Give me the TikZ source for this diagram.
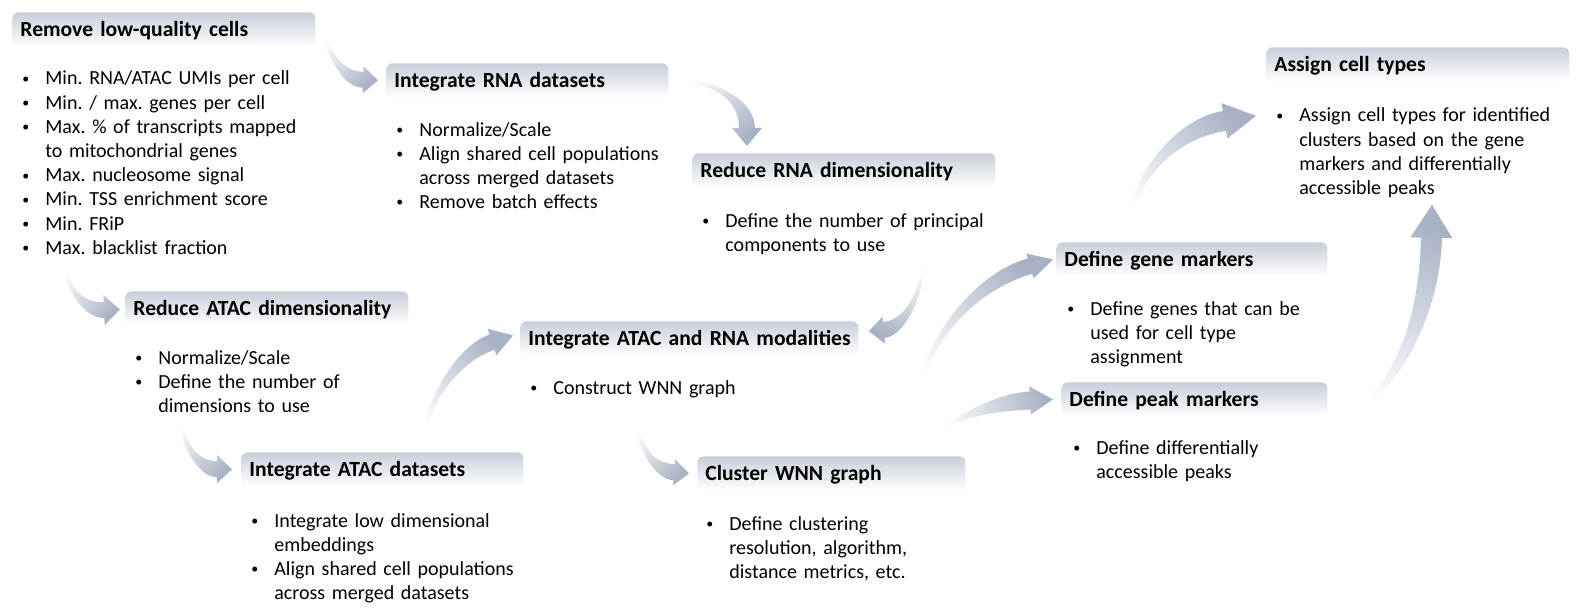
\documentclass[tikz,border=0pt]{standalone}
\usepackage{fontspec}
\setmainfont{Carlito}
\usetikzlibrary{calc}
\definecolor{HeadBlue}{HTML}{C8CED9}
\definecolor{ArrowBlue}{HTML}{A7B2C4}
\tikzset{
  stage/.style={anchor=north west,shade,top color=HeadBlue,bottom color=white,
    rounded corners=3pt,inner xsep=4pt,inner ysep=0pt,minimum height=17pt,
    text height=8pt,text depth=1pt,text width=#1,align=left,
    font=\bfseries\fontsize{10.8}{13}\selectfont},
  items/.style={anchor=base west,inner sep=0pt,text width=190pt,align=left,
    font=\frenchspacing\fontsize{10}{12.1}\selectfont},
}
\newcommand\bul{\leavevmode\llap{\raisebox{0.8pt}{\fontsize{7}{7}\selectfont\textbullet}\hspace{8pt}}}
% curved block arrow: tail, ctrl, ctrl, tip, tail half width, shaft half width, head half width, head length
\newcommand\bendarrow[8]{%
  \coordinate (ts) at (#1); \coordinate (tc) at (#2);
  \coordinate (hc) at (#3); \coordinate (tp) at (#4);
  \coordinate (bs) at ($(tp)!#8!(hc)$);
  \coordinate (tl) at ($(ts)!#5!90:(tc)$);
  \coordinate (tr) at ($(ts)!#5!-90:(tc)$);
  \coordinate (bl) at ($(bs)!#6!-90:(hc)$);
  \coordinate (br) at ($(bs)!#6!90:(hc)$);
  \coordinate (hl) at ($(bs)!#7!-90:(hc)$);
  \coordinate (hr) at ($(bs)!#7!90:(hc)$);
  \pgfmathanglebetweenpoints{\pgfpointanchor{ts}{center}}{\pgfpointanchor{tp}{center}}%
  \pgfmathsetmacro\shadeang{\pgfmathresult-90}%
  \shade[top color=ArrowBlue,bottom color=white,shading angle=\shadeang]
    (tl) .. controls ($(tc)+(tl)-(ts)$) and ($(hc)+(bl)-(bs)$) .. (bl)
    -- (hl) -- (tp) -- (hr) -- (br)
    .. controls ($(hc)+(br)-(bs)$) and ($(tc)+(tr)-(ts)$) .. (tr) -- cycle;
}

\begin{document}
\begin{tikzpicture}[x=0.5pt,y=-0.5pt]
  \useasboundingbox (0,0) rectangle (1584,615);

  % stage headers
  \node[stage=143.5pt] (rmvhead) at (12,12) {Remove low-quality cells};
  \node[stage=133pt] (rnahead) at (386,63) {Integrate RNA datasets};
  \node[stage=143.5pt] (rnadim) at (692,153) {Reduce RNA dimensionality};
  \node[stage=133.5pt] (atacdim) at (125,291) {Reduce ATAC dimensionality};
  \node[stage=161pt] (wnnhead) at (520,321) {\mbox{Integrate ATAC and RNA modalities}};
  \node[stage=133pt] (atachead) at (241,452) {Integrate ATAC datasets};
  \node[stage=126pt] (clushead) at (697,456) {Cluster WNN graph};
  \node[stage=127.5pt] (genehead) at (1056,242) {Define gene markers};
  \node[stage=125pt] (peakhead) at (1061,382) {Define peak markers};
  \node[stage=143.5pt] (typehead) at (1266,47) {Assign cell types};

  % bullet lists
  \node[items] (rmvlist) at (45,85)
    {\bul Min. RNA/ATAC UMIs per cell\\
     \bul Min. / max. genes per cell\\
     \bul Max. \% of transcripts mapped\\
     to mitochondrial genes\\
     \bul Max. nucleosome signal\\
     \bul Min. TSS enrichment score\\
     \bul Min. FRiP\\
     \bul Max. blacklist fraction};
  \node[items] (rnalist) at (419,136)
    {\bul Normalize/Scale\\
     \bul Align shared cell populations\\
     across merged datasets\\
     \bul Remove batch effects};
  \node[items] (rnadimlist) at (725,227)
    {\bul Define the number of principal\\
     components to use};
  \node[items] (atacdimlist) at (158,364)
    {\bul Normalize/Scale\\
     \bul Define the number of\\
     dimensions to use};
  \node[items] (wnnlist) at (553,394)
    {\bul Construct WNN graph};
  \node[items] (ataclist) at (274,527)
    {\bul Integrate low dimensional\\
     embeddings\\
     \bul Align shared cell populations\\
     across merged datasets};
  \node[items] (cluslist) at (729,530)
    {\bul Define clustering\\
     resolution, algorithm,\\
     distance metrics, etc.};
  \node[items] (genelist) at (1090,315)
    {\bul Define genes that can be\\
     used for cell type\\
     assignment};
  \node[items] (peaklist) at (1096,454)
    {\bul Define differentially\\
     accessible peaks};
  \node[items] (typelist) at (1299,122)
    {\bul Assign cell types for identified\\
     clusters based on the gene\\
     markers and differentially\\
     accessible peaks};

  % flow arrows
  \bendarrow{$(rmvhead.east)+(4,0)$}{332,57}{342,79}{$(rnahead.west)+(-8,0)$}{1pt}{4pt}{6.75pt}{7.5pt}
  \bendarrow{$(rnahead.east)+(5,-2)$}{715,82}{747,100}{$(rnadim.north west)+(55,-7)$}{1pt}{4pt}{7.5pt}{9pt}
  \bendarrow{$(rmvlist.south west)+(18,3)$}{66,290}{85,311}{$(atacdim.west)+(-5,1)$}{1pt}{4pt}{7.5pt}{8pt}
  \bendarrow{$(rnadim.south east)+(-70,65)$}{922,295}{905,328}{$(wnnhead.east)+(10,-7)$}{1pt}{4pt}{6.75pt}{7.5pt}
  \bendarrow{$(atacdimlist.south west)+(20,1)$}{183,445}{198,469}{$(atachead.west)+(-9,0)$}{1pt}{4pt}{7pt}{7.5pt}
  \bendarrow{$(atachead.north east)+(-103,-5)$}{428,395}{462,352}{$(wnnhead.west)+(-7,-3)$}{1pt}{4pt}{7pt}{11pt}
  \bendarrow{$(wnnlist.south west)+(83,20)$}{640,452}{656,471}{$(clushead.west)+(-8,0)$}{1pt}{4pt}{6.5pt}{7.5pt}
  \bendarrow{$(clushead.north east)+(-50,-52)$}{925,340}{975,282}{$(genehead.west)+(-3,0)$}{1pt}{4pt}{6.5pt}{12pt}
  \bendarrow{$(clushead.north east)+(-30,-24)$}{968,412}{1000,402}{$(peakhead.west)+(-8,0)$}{1pt}{4.5pt}{7pt}{11.5pt}
  \bendarrow{$(genehead.north west)+(69,-7)$}{1135,170}{1180,128}{$(typehead.south west)+(-10,34)$}{1.5pt}{5pt}{9pt}{16pt}
  \bendarrow{$(peakhead.east)+(16,19)$}{1400,390}{1430,310}{$(typehead.south west)+(166,123)$}{1.5pt}{5.25pt}{10.5pt}{16.5pt}
\end{tikzpicture}
\end{document}
